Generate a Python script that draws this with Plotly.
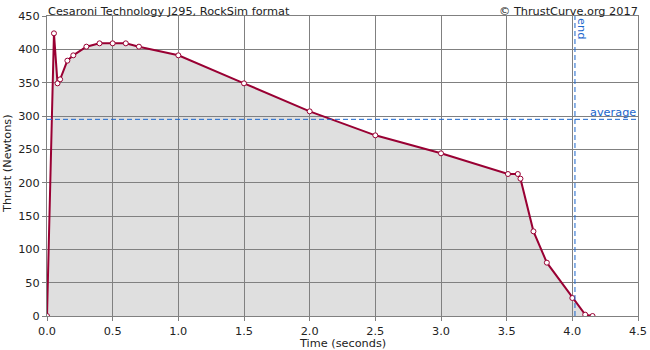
import plotly.graph_objects as go

time_s = [0.0, 0.053, 0.08, 0.1, 0.155, 0.2, 0.3, 0.4, 0.5, 0.6, 0.7, 1.0, 1.5, 2.0, 2.5,
          3.0, 3.51, 3.585, 3.605, 3.704, 3.806, 4.0, 4.098, 4.154]
thrust_n = [0, 424, 349, 355, 383, 391, 404, 409, 409, 409, 404, 391, 349, 307, 271,
            244, 213, 213, 206, 127, 80, 27, 2, 0]
average_n = 295
end_s = 4.02
title = "Cesaroni Technology J295, RockSim format"
credit = "© ThrustCurve.org 2017"
x_title = "Time (seconds)"
y_title = "Thrust (Newtons)"

FONT = "DejaVu Sans"
FS = 11.3
line_col = "#990033"
blue = "#1a66cc"
grid = "#808080"
txt = "#222222"

fig = go.Figure()
fig.add_trace(go.Scatter(
    x=time_s, y=thrust_n, mode="lines+markers",
    fill="tozeroy", fillcolor="rgba(128,128,128,0.25)",
    line=dict(color=line_col, width=2),
    marker=dict(symbol="circle", size=5, color="white",
                line=dict(color=line_col, width=1)),
    hoverinfo="x+y", showlegend=False,
))

fig.add_hline(y=average_n, line=dict(color=blue, width=1, dash="5px,3px"))
fig.add_vline(x=end_s, line=dict(color=blue, width=1, dash="5px,3px"))

fig.add_annotation(x=1, xref="paper", y=average_n, yref="y", text="average",
                   showarrow=False, xanchor="right", yanchor="bottom",
                   font=dict(family=FONT, size=FS, color=blue), yshift=-2, xshift=0)
fig.add_annotation(x=end_s, xref="x", y=1, yref="paper", text="end",
                   showarrow=False, textangle=90, xanchor="left", yanchor="top",
                   font=dict(family=FONT, size=FS, color=blue), xshift=-2)
fig.add_annotation(x=0, xref="paper", y=1, yref="paper", text=title,
                   showarrow=False, xanchor="left", yanchor="bottom",
                   font=dict(family=FONT, size=FS, color=txt), yshift=-4, xshift=-1)
fig.add_annotation(x=1, xref="paper", y=1, yref="paper", text=credit,
                   showarrow=False, xanchor="right", yanchor="bottom",
                   font=dict(family=FONT, size=FS, color=txt), yshift=-4, xshift=2)
fig.add_annotation(x=0.5, xref="paper", y=0, yref="paper", text=x_title,
                   showarrow=False, xanchor="center", yanchor="middle",
                   font=dict(family=FONT, size=FS, color=txt), yshift=-27)
fig.add_annotation(x=0, xref="paper", y=0.5, yref="paper", text=y_title,
                   showarrow=False, xanchor="center", yanchor="middle", textangle=-90,
                   font=dict(family=FONT, size=FS, color=txt), xshift=-40, yshift=2)

axis_common = dict(showgrid=True, gridcolor=grid, gridwidth=1,
                   showline=True, linecolor=grid, linewidth=1, mirror=True,
                   ticks="outside", ticklen=4, tickcolor=grid,
                   zeroline=False, automargin=False,
                   tickfont=dict(family=FONT, size=FS, color=txt))
fig.update_xaxes(range=[0, 4.5], dtick=0.5, tickformat=".1f", **axis_common)
fig.update_yaxes(range=[0, 450], dtick=50, **axis_common)

fig.update_layout(width=650, height=350,
                  margin=dict(l=47, r=12, t=16, b=34, pad=0),
                  paper_bgcolor="white", plot_bgcolor="white")
fig.write_html("out.html")
